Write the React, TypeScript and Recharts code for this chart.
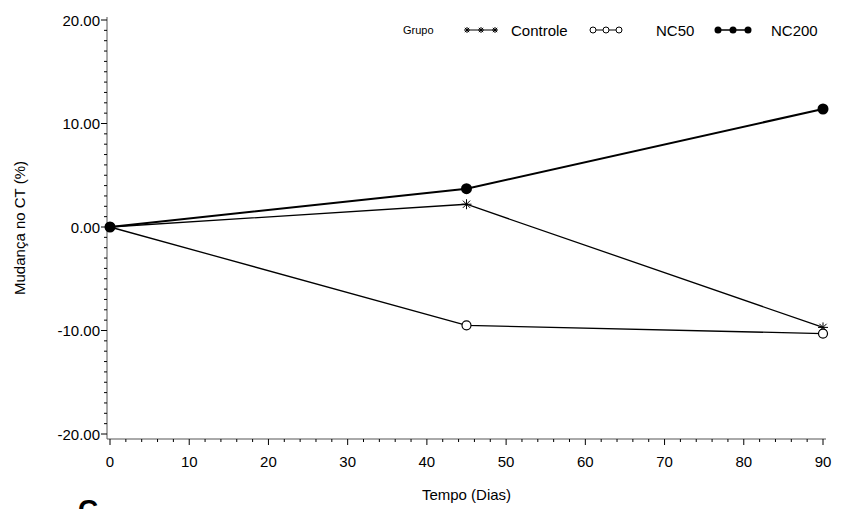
import { Line, LineChart, XAxis, YAxis } from "recharts";

const days = [0, 45, 90];
const controle = [0, 2.2, -9.7];
const nc50 = [0, -9.5, -10.3];
const nc200 = [0, 3.7, 11.4];

const xTicks = Array.from({ length: 46 }, (_, i) => i * 2);
const yTicks = Array.from({ length: 41 }, (_, i) => i - 20);

const rows = days.map((day, i) => ({
  day,
  controle: controle[i],
  nc50: nc50[i],
  nc200: nc200[i],
}));

const FONT = "'Liberation Sans', Arial, Helvetica, sans-serif";
const FRAME = "#555";

function Star({ cx, cy, s = 5 }: { cx: number; cy: number; s?: number }) {
  const d = s * 0.72;
  return (
    <g stroke="#000" strokeWidth={1}>
      <line x1={cx} y1={cy - s} x2={cx} y2={cy + s} />
      <line x1={cx - d} y1={cy - d} x2={cx + d} y2={cy + d} />
      <line x1={cx - d} y1={cy + d} x2={cx + d} y2={cy - d} />
      <line x1={cx - s} y1={cy} x2={cx + s} y2={cy} />
    </g>
  );
}

function starDot(props: any) {
  const { cx, cy, index } = props;
  return <Star key={`s${index}`} cx={cx} cy={cy} />;
}

function openDot(props: any) {
  const { cx, cy, index } = props;
  return <circle key={`o${index}`} cx={cx} cy={cy} r={4.5} fill="#fff" stroke="#000" strokeWidth={1.2} />;
}

function fullDot(props: any) {
  const { cx, cy, index } = props;
  return <circle key={`f${index}`} cx={cx} cy={cy} r={5.5} fill="#000" />;
}

function XTick(props: any) {
  const { x, y, payload } = props;
  const major = payload.value % 10 === 0;
  return (
    <g>
      <line x1={x} y1={y} x2={x} y2={y + (major ? 6 : 3)} stroke="#000" />
      {major && (
        <text x={x} y={y + 28} textAnchor="middle" fontSize={15} fontFamily={FONT} fill="#000">
          {payload.value}
        </text>
      )}
    </g>
  );
}

function YTick(props: any) {
  const { x, y, payload } = props;
  const major = payload.value % 10 === 0;
  return (
    <g>
      <line x1={x - (major ? 6 : 3)} y1={y} x2={x} y2={y} stroke="#000" />
      {major && (
        <text x={x - 7} y={y + 5.5} textAnchor="end" fontSize={15} fontFamily={FONT} fill="#000">
          {payload.value.toFixed(2)}
        </text>
      )}
    </g>
  );
}

function Legend() {
  return (
    <svg width={843} height={509} style={{ position: "absolute", left: 0, top: 0, pointerEvents: "none" }}>
      <g fontFamily={FONT} fill="#000">
        <text x={403} y={34} fontSize={11}>Grupo</text>
        <line x1={466} y1={30} x2={497} y2={30} stroke="#000" />
        <Star cx={467} cy={30} s={3} />
        <Star cx={481} cy={30} s={3} />
        <Star cx={495} cy={30} s={3} />
        <text x={511} y={35.5} fontSize={15}>Controle</text>
        <line x1={591} y1={30} x2={622} y2={30} stroke="#000" />
        {[593, 606, 619].map((cx) => (
          <circle key={cx} cx={cx} cy={30} r={3} fill="#fff" stroke="#000" />
        ))}
        <text x={656} y={35.5} fontSize={15}>NC50</text>
        <line x1={716} y1={30} x2={750} y2={30} stroke="#000" strokeWidth={1.5} />
        {[718, 733, 748].map((cx) => (
          <circle key={cx} cx={cx} cy={30} r={3.5} fill="#000" />
        ))}
        <text x={771} y={35.5} fontSize={15}>NC200</text>
      </g>
    </svg>
  );
}

export default function App() {
  return (
    <div style={{ position: "absolute", left: 0, top: 0, width: 843, height: 509, overflow: "hidden", background: "#fff" }}>
      <LineChart width={843} height={509} data={rows} margin={{ top: 17, right: 17, left: 0, bottom: 0 }}>
        <XAxis
          dataKey="day"
          type="number"
          domain={[0, 90]}
          ticks={xTicks}
          interval={0}
          padding={{ left: 3, right: 3 }}
          height={70}
          tickSize={0}
          tickMargin={0}
          tickLine={false}
          tick={XTick}
          axisLine={{ stroke: FRAME }}
          label={{ value: "Tempo (Dias)", position: "insideBottom", offset: 9, fontSize: 15, fontFamily: FONT, fill: "#000" }}
        />
        <XAxis
          xAxisId="top"
          orientation="top"
          type="number"
          domain={[0, 90]}
          height={0}
          tick={false}
          tickLine={false}
          axisLine={{ stroke: FRAME }}
        />
        <YAxis
          type="number"
          domain={[-20, 20]}
          ticks={yTicks}
          interval={0}
          padding={{ top: 3, bottom: 5 }}
          width={107}
          tickSize={0}
          tickMargin={0}
          tickLine={false}
          tick={YTick}
          axisLine={{ stroke: FRAME }}
          label={{ value: "Mudança no CT (%)", angle: -90, position: "insideLeft", offset: 20, style: { textAnchor: "middle" }, fontSize: 15, fontFamily: FONT, fill: "#000" }}
        />
        <YAxis
          yAxisId="right"
          orientation="right"
          type="number"
          domain={[-20, 20]}
          width={0}
          tick={false}
          tickLine={false}
          axisLine={{ stroke: FRAME }}
        />
        <Line dataKey="controle" name="Controle" stroke="#000" strokeWidth={1.3} dot={starDot} isAnimationActive={false} />
        <Line dataKey="nc50" name="NC50" stroke="#000" strokeWidth={1.3} dot={openDot} isAnimationActive={false} />
        <Line dataKey="nc200" name="NC200" stroke="#000" strokeWidth={2} dot={fullDot} isAnimationActive={false} />
      </LineChart>
      <Legend />
      <svg width={60} height={30} style={{ position: "absolute", left: 70, top: 485 }}>
        <text x={8} y={34} fontSize={28} fontWeight="bold" fontFamily={FONT} fill="#000">C</text>
      </svg>
    </div>
  );
}
